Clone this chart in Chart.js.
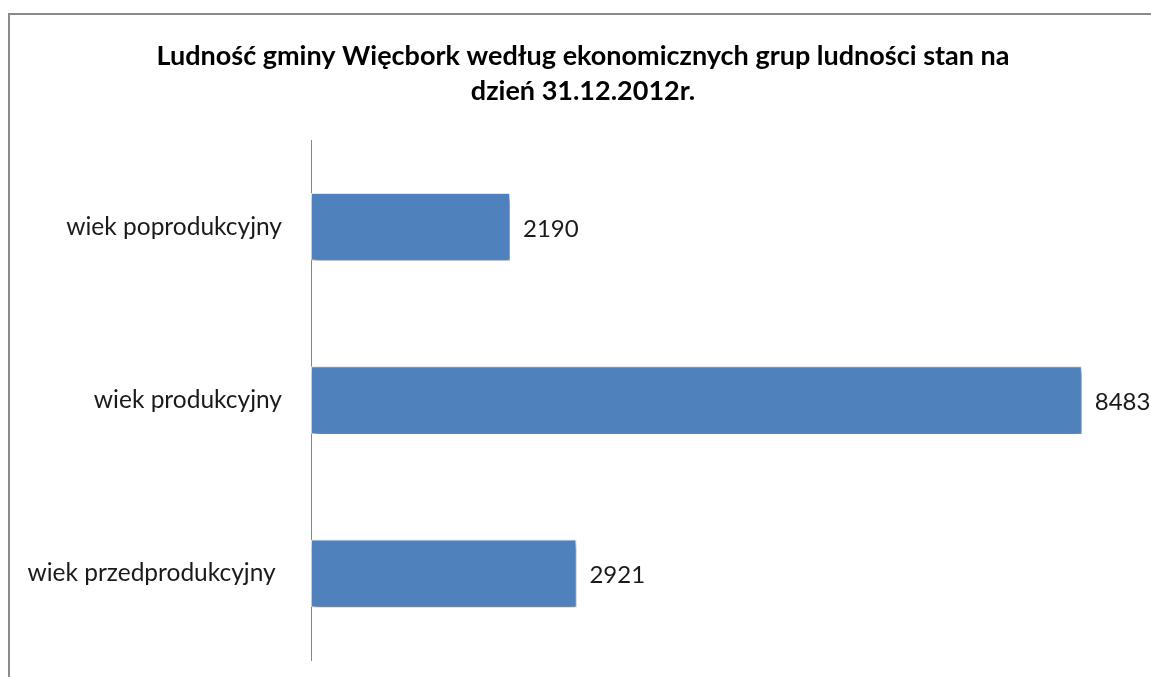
<!DOCTYPE html>
<html>
<head>
<meta charset="utf-8">
<script src="https://cdn.jsdelivr.net/npm/chart.js@4.4.1/dist/chart.umd.min.js"></script>
<style>
  html, body { margin: 0; padding: 0; background: #fff; overflow: hidden; }
  #frame {
    position: absolute; left: 8px; top: 13px;
    width: 1200px; height: 700px;
    border-left: 2px solid #8a8a8a; border-top: 2px solid #8a8a8a;
  }
  #chart { position: absolute; left: 0; top: 0; }
</style>
</head>
<body>
<div id="frame"><canvas id="chart" width="1146" height="662"></canvas></div>
<script>
// Ludność gminy Więcbork - ekonomiczne grupy wieku
const categories = ["wiek poprodukcyjny", "wiek produkcyjny", "wiek przedprodukcyjny "];
const population = [2190, 8483, 2921];
const titleLines = [
  "Ludność gminy Więcbork według ekonomicznych grup ludności stan na",
  "dzień 31.12.2012r."
];

const barBlue = "#4f81bd";

// soft shadow under bars, like the office chart
const barShadow = {
  id: "barShadow",
  beforeDatasetDraw(chart) {
    const ctx = chart.ctx;
    ctx.save();
    ctx.shadowColor = "rgba(0,0,0,0.5)";
    ctx.shadowBlur = 6;
    ctx.shadowOffsetX = 2;
    ctx.shadowOffsetY = 4;
  },
  afterDatasetDraw(chart) {
    chart.ctx.restore();
  },
};

// value labels right of each bar
const valueLabels = {
  id: "valueLabels",
  afterDatasetsDraw(chart) {
    const ctx = chart.ctx;
    const meta = chart.getDatasetMeta(0);
    ctx.save();
    ctx.font = "24px Lato";
    ctx.fillStyle = "#1a1a1a";
    ctx.textAlign = "left";
    ctx.textBaseline = "middle";
    meta.data.forEach((bar, i) => {
      ctx.fillText(String(population[i]), bar.x + 13, bar.y + 2);
    });
    ctx.restore();
  },
};

new Chart(document.getElementById("chart").getContext("2d"), {
  type: "bar",
  data: {
    labels: categories,
    datasets: [
      {
        data: population,
        backgroundColor: barBlue,
        borderColor: "rgba(225,234,246,0.95)",
        borderWidth: 1,
        borderSkipped: false,
        barPercentage: 0.39,
        categoryPercentage: 1,
      },
    ],
  },
  options: {
    indexAxis: "y",
    responsive: false,
    animation: false,
    layout: { padding: { left: 0, right: 0, top: 0, bottom: 17 } },
    plugins: {
      legend: { display: false },
      tooltip: { enabled: false },
      title: {
        display: true,
        text: titleLines,
        color: "#000",
        font: { family: "Lato", size: 27, weight: "bold", lineHeight: 1.3 },
        padding: { top: 24, bottom: 31 },
      },
    },
    scales: {
      x: { display: false, min: 0, max: 9300 },
      y: {
        afterFit: (scale) => {
          scale.width = 301;
          scale.paddingTop = 0;
          scale.paddingBottom = 0;
        },
        grid: { display: false, drawTicks: false },
        border: { display: true, color: "#868686", width: 1 },
        ticks: {
          color: "#1a1a1a",
          font: { family: "Lato", size: 24.5 },
          padding: 29,
        },
      },
    },
  },
  plugins: [barShadow, valueLabels],
});
</script>
</body>
</html>
